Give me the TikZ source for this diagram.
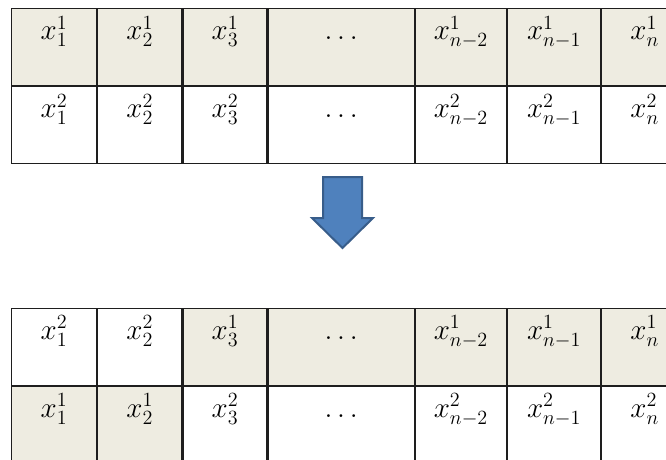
\documentclass[tikz,border=0pt]{standalone}
\usepackage{tikz}
\usetikzlibrary{positioning}
\definecolor{TanBand}{RGB}{238,236,225}
\definecolor{GridLine}{RGB}{30,30,30}
\definecolor{ArrowBlue}{RGB}{79,129,189}
\definecolor{ArrowEdge}{RGB}{56,93,138}
\newcommand{\cellmath}[1]{\scalebox{1.4}{$#1$}}
\tikzset{
  cell/.style={draw=GridLine,line width=1.2pt,inner sep=0pt,
    text height=31pt,text depth=46pt,font=\huge},
  tancell/.style={cell,fill=TanBand},
  whitecell/.style={cell,fill=white}
}

\begin{document}
\begin{tikzpicture}[x=1pt,y=-1pt]
  \useasboundingbox (0,0) rectangle (666,460);
  \clip (0,0) rectangle (666,460);

  \node[tancell,minimum width=85pt,anchor=north west] (a1) at (11,8) {\cellmath{x_1^1}};
  \node[tancell,right=0pt of a1,minimum width=84pt] (a2) {\cellmath{x_2^1}};
  \node[tancell,right=0pt of a2,minimum width=84pt] (a3) {\cellmath{x_3^1}};
  \node[tancell,right=0pt of a3,minimum width=146pt] (a4) {\cellmath{\ldots}};
  \node[tancell,right=0pt of a4,minimum width=91pt] (a5) {\cellmath{x_{n-2}^1}};
  \node[tancell,right=0pt of a5,minimum width=93pt] (a6) {\cellmath{x_{n-1}^1}};
  \node[tancell,right=0pt of a6,minimum width=86pt] (a7) {\cellmath{x_n^1}};

  \node[whitecell,below=0pt of a1,minimum width=85pt] (b1) {\cellmath{x_1^2}};
  \node[whitecell,right=0pt of b1,minimum width=84pt] (b2) {\cellmath{x_2^2}};
  \node[whitecell,right=0pt of b2,minimum width=84pt] (b3) {\cellmath{x_3^2}};
  \node[whitecell,right=0pt of b3,minimum width=146pt] (b4) {\cellmath{\ldots}};
  \node[whitecell,right=0pt of b4,minimum width=91pt] (b5) {\cellmath{x_{n-2}^2}};
  \node[whitecell,right=0pt of b5,minimum width=93pt] (b6) {\cellmath{x_{n-1}^2}};
  \node[whitecell,right=0pt of b6,minimum width=86pt] (b7) {\cellmath{x_n^2}};

  \draw[fill=ArrowBlue,draw=ArrowEdge,line width=2pt,line join=miter]
    (323,177) -- (362,177) -- (362,218) -- (373,218) -- (342.5,248)
    -- (312,218) -- (323,218) -- cycle;

  \node[whitecell,minimum width=85pt,anchor=north west] (c1) at (11,307.5) {\cellmath{x_1^2}};
  \node[whitecell,right=0pt of c1,minimum width=84pt] (c2) {\cellmath{x_2^2}};
  \node[tancell,right=0pt of c2,minimum width=84pt] (c3) {\cellmath{x_3^1}};
  \node[tancell,right=0pt of c3,minimum width=146pt] (c4) {\cellmath{\ldots}};
  \node[tancell,right=0pt of c4,minimum width=91pt] (c5) {\cellmath{x_{n-2}^1}};
  \node[tancell,right=0pt of c5,minimum width=93pt] (c6) {\cellmath{x_{n-1}^1}};
  \node[tancell,right=0pt of c6,minimum width=86pt] (c7) {\cellmath{x_n^1}};

  \node[tancell,below=0pt of c1,minimum width=85pt] (d1) {\cellmath{x_1^1}};
  \node[tancell,right=0pt of d1,minimum width=84pt] (d2) {\cellmath{x_2^1}};
  \node[whitecell,right=0pt of d2,minimum width=84pt] (d3) {\cellmath{x_3^2}};
  \node[whitecell,right=0pt of d3,minimum width=146pt] (d4) {\cellmath{\ldots}};
  \node[whitecell,right=0pt of d4,minimum width=91pt] (d5) {\cellmath{x_{n-2}^2}};
  \node[whitecell,right=0pt of d5,minimum width=93pt] (d6) {\cellmath{x_{n-1}^2}};
  \node[whitecell,right=0pt of d6,minimum width=86pt] (d7) {\cellmath{x_n^2}};
\end{tikzpicture}
\end{document}
